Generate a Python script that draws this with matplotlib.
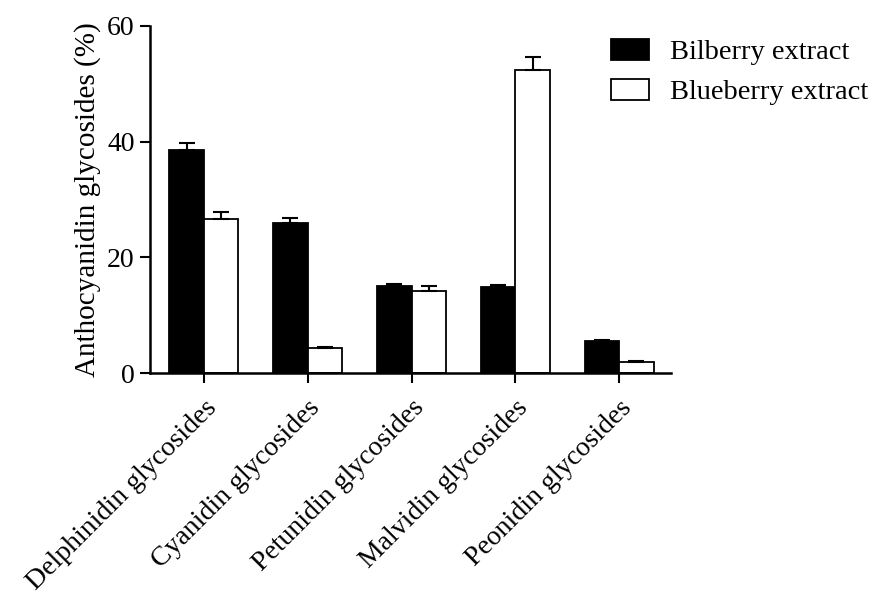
import matplotlib
matplotlib.use("Agg")
import matplotlib.pyplot as plt
import numpy as np

categories = ["Delphinidin glycosides", "Cyanidin glycosides", "Petunidin glycosides",
              "Malvidin glycosides", "Peonidin glycosides"]
bilberry = [38.5, 25.9, 15.0, 14.9, 5.6]
bilberry_err = [1.2, 0.9, 0.45, 0.3, 0.1]
blueberry = [26.7, 4.4, 14.2, 52.3, 2.0]
blueberry_err = [1.1, 0.15, 0.9, 2.3, 0.1]
yticks = [0, 20, 40, 60]

plt.rcParams["font.family"] = ["Liberation Serif", "DejaVu Serif"]

fig = plt.figure(figsize=(8.79, 5.97), dpi=100)
ax = fig.add_axes([0.1706, 0.3747, 0.5928, 0.5823])

x = np.arange(len(categories))
w = 0.333
lw_edge = 1.3

ax.bar(x - w / 2, bilberry, w, color="black", edgecolor="black", linewidth=lw_edge,
       label="Bilberry extract", zorder=2)
ax.bar(x + w / 2, blueberry, w, color="white", edgecolor="black", linewidth=lw_edge,
       label="Blueberry extract", zorder=2)

zeros = [0] * len(categories)
ax.errorbar(x - w / 2, bilberry, yerr=[zeros, bilberry_err], fmt="none", ecolor="black",
            elinewidth=1.5, capsize=6, capthick=1.5, zorder=3)
ax.errorbar(x + w / 2, blueberry, yerr=[zeros, blueberry_err], fmt="none", ecolor="black",
            elinewidth=1.5, capsize=6, capthick=1.5, zorder=3)

ax.set_xlim(-0.52, 4.5)
ax.set_ylim(0, 60)
ax.set_yticks(yticks)
ax.set_xticks(x)
ax.set_xticklabels(categories, rotation=45, ha="right", va="top",
                   rotation_mode="anchor", fontsize=20)
ax.tick_params(axis="y", labelsize=20, direction="out", length=7, width=1.5, pad=4)
ax.tick_params(axis="x", direction="out", length=7, width=1.5, pad=9)
ax.set_ylabel("Anthocyanidin glycosides (%)", fontsize=21, labelpad=4)

for side in ("top", "right"):
    ax.spines[side].set_visible(False)
for side in ("left", "bottom"):
    ax.spines[side].set_linewidth(1.8)

fs_leg = 20.5
ax.legend(loc="upper left", bbox_to_anchor=(611 / 879, 1 - 39 / 597),
          bbox_transform=fig.transFigure, frameon=False, fontsize=fs_leg,
          borderpad=0, borderaxespad=0,
          handlelength=1.33, handleheight=0.74, handletextpad=0.74, labelspacing=0.49)

fig.savefig("out.png", dpi=100)
